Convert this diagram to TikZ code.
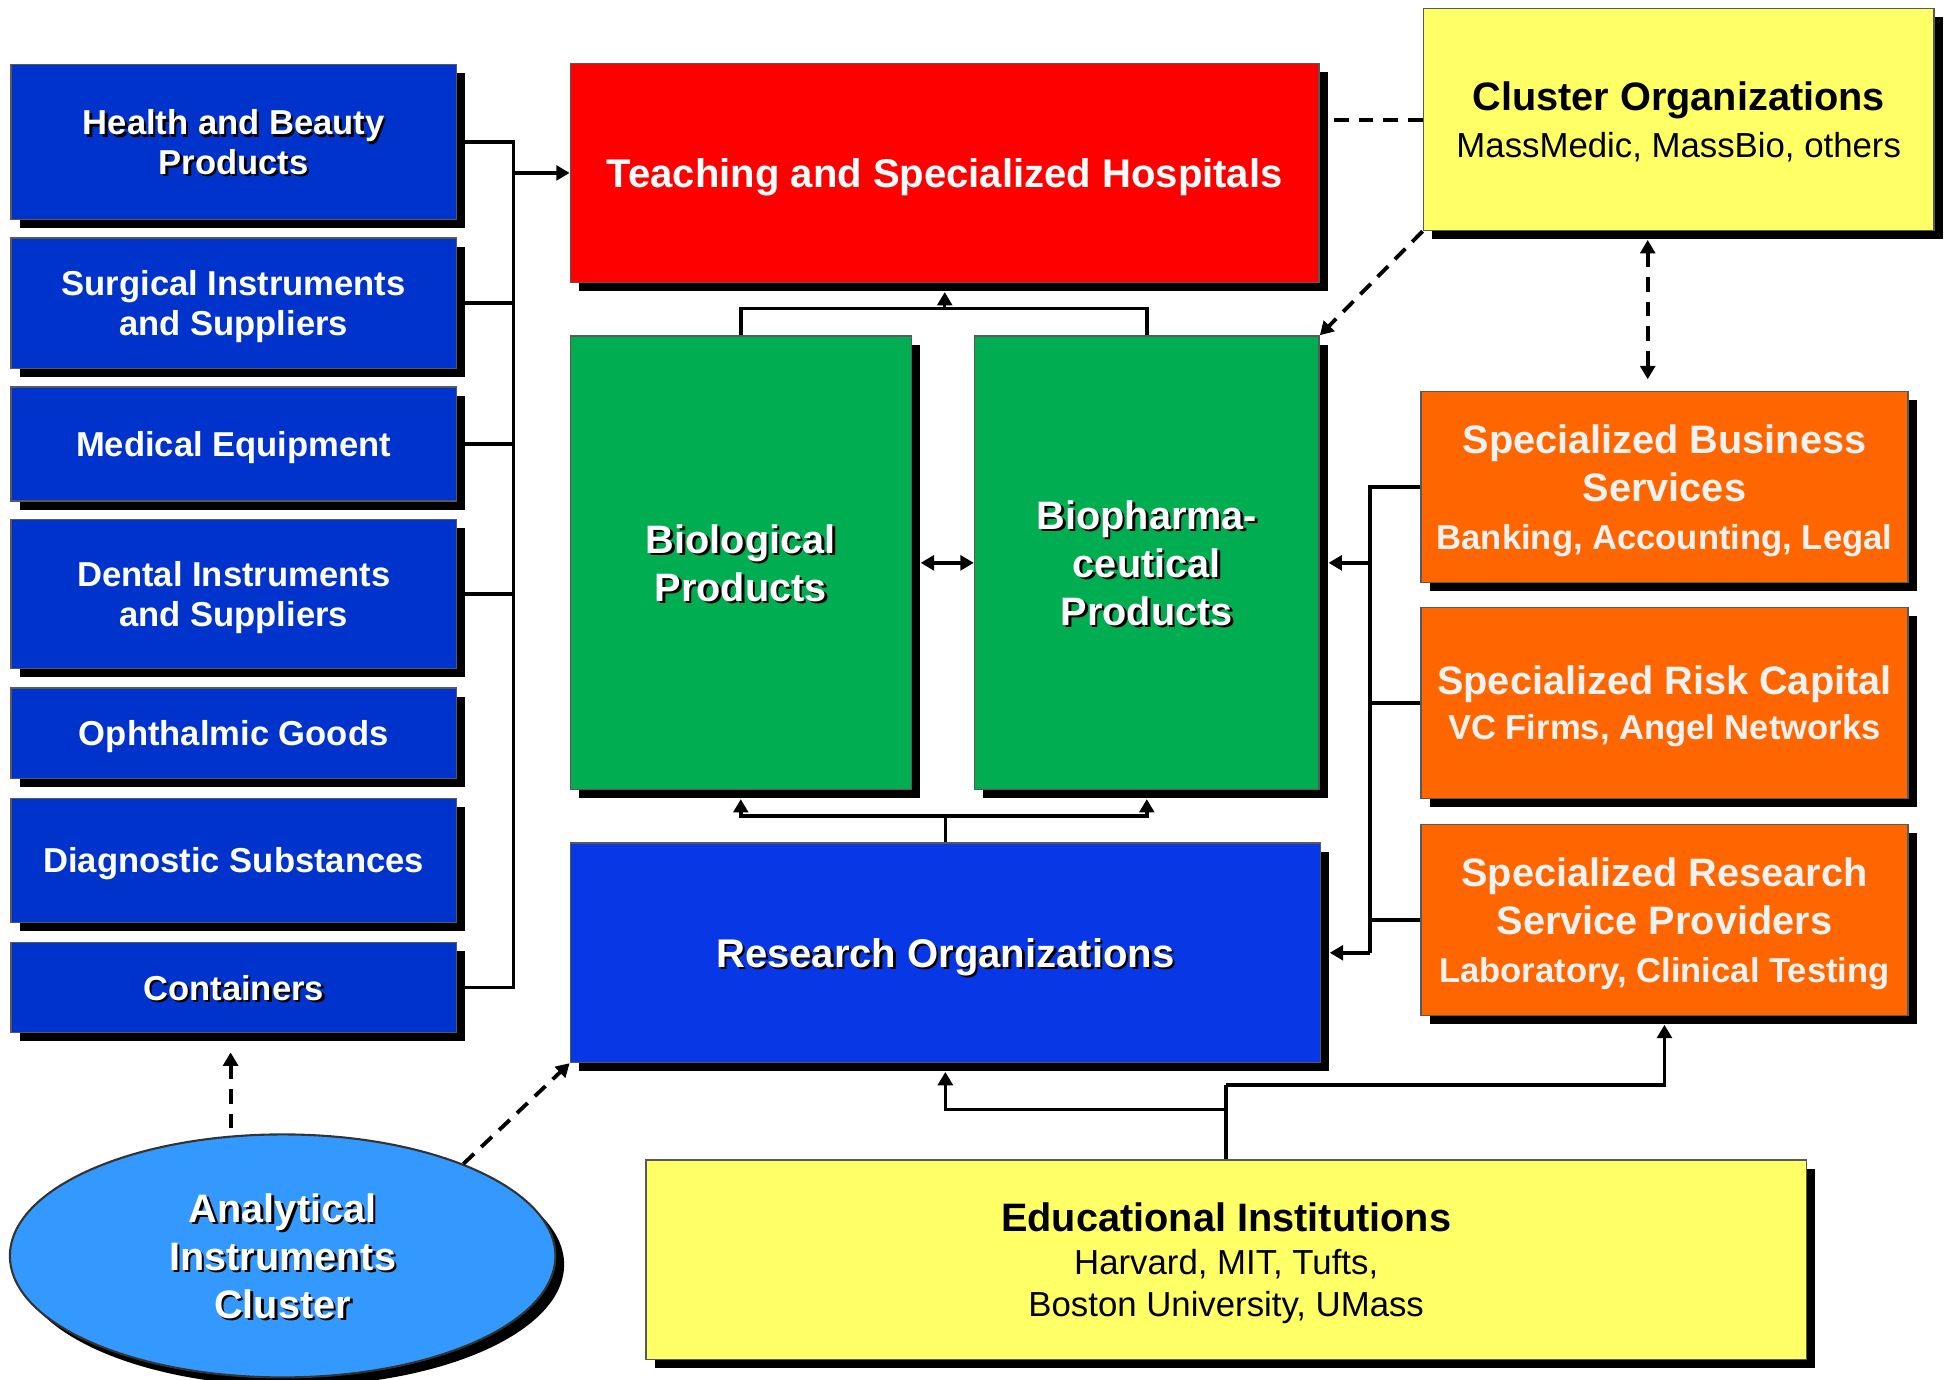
\documentclass[tikz,border=0pt]{standalone}
\usepackage{fontspec}
\setmainfont{Liberation Sans}
\usetikzlibrary{shadows,arrows.meta,calc,shapes.geometric}
\newcommand\pxu{0.0124cm}
\newcommand\shtx[1]{\leavevmode\rlap{\kern0.7pt\raisebox{-0.7pt}{\color{black}#1}}#1}
\newcommand\lfont{\fontsize{9.85}{11.3}\selectfont\bfseries}
\newcommand\bfnt{\fontsize{11.3}{13.6}\selectfont\bfseries}
\newcommand\sfnt{\fontsize{9.85}{12}\selectfont\bfseries}
\newcommand\rfnt{\fontsize{9.9}{12}\selectfont\mdseries}
\definecolor{lblue}{HTML}{0033CC}
\definecolor{rblue}{HTML}{0838E6}
\definecolor{hred}{HTML}{FF0000}
\definecolor{pgreen}{HTML}{00AD50}
\definecolor{pyellow}{HTML}{FFFF66}
\definecolor{porange}{HTML}{FF6600}
\definecolor{pell}{HTML}{3399FF}
\definecolor{otext}{HTML}{F2F2F2}
\begin{document}
\begin{tikzpicture}[x=0.0124cm,y=-0.0124cm,
  dshadow/.style={drop shadow={shadow xshift=0.087cm,shadow yshift=-0.087cm,opacity=1,fill=black}},
  bx/.style 2 args={rectangle,draw=black!65,line width=0.4pt,minimum width=#1*\pxu,minimum height=#2*\pxu,inner sep=0pt,align=center,text depth=0pt,dshadow},
  lbox/.style={fill=lblue,text=white,font=\lfont},
  conn/.style={line width=1pt,draw=black},
  arr/.style={conn,-{Triangle[length=3.8pt,width=4.2pt]}},
  arrb/.style={conn,{Triangle[length=3.8pt,width=4.2pt]}-{Triangle[length=3.8pt,width=4.2pt]}},
  dsh/.style={line width=1.1pt,draw=black,dash pattern=on 4.2pt off 2.8pt},
  dsharr/.style={dsh,-{Triangle[length=3.8pt,width=4.2pt]}},
  dsharrb/.style={dsh,{Triangle[length=3.8pt,width=4.2pt]}-{Triangle[length=3.8pt,width=4.2pt]}},
  shsh/.style={shorten >=0.087cm}
]
\useasboundingbox[fill=white] (0,0) rectangle (1568,1113);

% left column
\node[bx={359}{125},lbox] (hb) at (188.5,114.5) {\shtx{Health and Beauty}\\\shtx{Products}};
\node[bx={359}{105},lbox] (si) at (188.5,244.5) {Surgical Instruments\\and Suppliers};
\node[bx={359}{92},lbox] (me) at (188.5,358) {Medical Equipment};
\node[bx={359}{120},lbox] (di) at (188.5,479) {Dental Instruments\\and Suppliers};
\node[bx={359}{73},lbox] (og) at (188.5,591.5) {Ophthalmic Goods};
\node[bx={359}{100},lbox] (ds) at (188.5,694) {Diagnostic Substances};
\node[bx={359}{73},lbox] (co) at (188.5,796.5) {\shtx{Containers}};

% centre
\node[bx={604}{177},fill=hred,text=white,font=\fontsize{11.4}{13}\selectfont\bfseries] (red) at (762,139.5) {Teaching and Specialized Hospitals};
\node[bx={275}{366},fill=pgreen,text=white,font=\bfnt] (gl) at (597.5,454) {\shtx{Biological}\\\shtx{Products}};
\node[bx={278}{366},fill=pgreen,text=white,font=\bfnt] (gr) at (925,454) {\shtx{Biopharma-}\\\shtx{ceutical}\\\shtx{Products}};
\node[bx={605}{177},fill=rblue,text=white,font=\fontsize{11.4}{13.6}\selectfont\bfseries] (ro) at (762.5,768.5) {\shtx{Research Organizations}};

% right
\node[bx={412}{179},fill=pyellow,text=black,font=\fontsize{11.3}{13.2}\selectfont] (cl) at (1354,96.5) {\bfseries Cluster Organizations\\\rfnt MassMedic, MassBio, others};
\node[bx={393}{154},fill=porange,text=otext,font=\bfnt] (o1) at (1342.5,393) {Specialized Business\\Services\\\sfnt Banking, Accounting, Legal};
\node[bx={393}{154},fill=porange,text=otext,font=\fontsize{11.3}{12.8}\selectfont\bfseries] (o2) at (1342.5,567) {Specialized Risk Capital\\\sfnt VC Firms, Angel Networks};
\node[bx={393}{154},fill=porange,text=otext,font=\bfnt] (o3) at (1342.5,742) {Specialized Research\\Service Providers\\\sfnt Laboratory, Clinical Testing};

% bottom
\node[bx={936}{161},fill=pyellow,text=black,font=\fontsize{11.3}{12.1}\selectfont] (ed) at (989,1016) {\bfseries Educational Institutions\\\rfnt Harvard, MIT, Tufts,\\\rfnt Boston University, UMass};
\node[ellipse,draw=black!80,line width=0.6pt,fill=pell,minimum width=440*\pxu,minimum height=196*\pxu,inner sep=0pt,align=center,text depth=0pt,dshadow,text=white,font=\bfnt] (el) at (228,1013) {\shtx{Analytical}\\\shtx{Instruments}\\\shtx{Cluster}};

% left bus
\coordinate (bus) at (414,0);
\draw[conn] (hb.east) -| (co.east -| bus) -- (co.east);
\draw[conn] (si.east) -- (si.east -| bus);
\draw[conn] (me.east) -- (me.east -| bus);
\draw[conn] (di.east) -- (di.east -| bus);
\draw[arr] (red.west -| bus) -- (red.west);

% green to red
\coordinate (jt) at (762,249);
\draw[conn] (gl.north) |- (jt) -| (gr.north);
\draw[arr,shsh] (jt) -- (jt |- red.south);

% research to greens
\coordinate (jb) at (762.5,658);
\draw[conn] (ro.north) -- (jb);
\draw[arr,shsh] (jb) -| (gl.south);
\draw[arr,shsh] (jb) -| (gr.south);
\draw[arrb,shorten <=0.087cm] (gl.east) -- (gr.west);

% right bus
\coordinate (rbus) at (1105,0);
\draw[conn] (o1.west) -| (ro.east -| rbus);
\draw[conn] (o2.west) -- (o2.west -| rbus);
\draw[conn] (o3.west) -- (o3.west -| rbus);
\draw[arr,shsh] (ro.east -| rbus) -- (ro.east);
\draw[arr,shsh] (gr.east -| rbus) -- (gr.east);

% educational connections
\coordinate (e1) at (989,895);
\coordinate (e2) at (989,875);
\draw[conn] (ed.north) -- (e2);
\draw[arr,shsh] (e1) -| (ro.south);
\draw[arr,shsh] (e2) -| (o3.south);

% dashed
\draw[dsh,shorten >=0.087cm] (cl.west) -- (cl.west -| red.east);
\draw[dsharr] (cl.south west) -- (gr.north east);
\coordinate (vx) at (1329,0);
\draw[dsharrb,shorten <=0.087cm,shorten >=0.118cm] (cl.south -| vx) -- (o1.north -| vx);
\coordinate (ex) at (186,0);
\draw[dsharr,shorten <=0.05cm,shorten >=0.19cm] (el.north -| ex) -- (co.south -| ex);
\draw[dsharr] (el.27) -- (ro.south west);
\end{tikzpicture}
\end{document}
